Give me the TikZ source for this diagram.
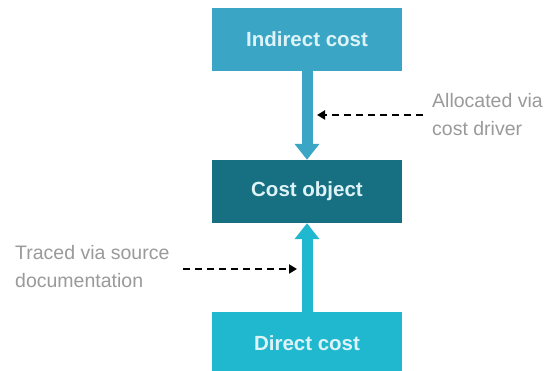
\documentclass[tikz,border=0pt]{standalone}
\usepackage{fontspec}
\setmainfont{Liberation Sans}
\usetikzlibrary{arrows.meta}
\definecolor{indirectblue}{HTML}{3AA5C5}
\definecolor{objectteal}{HTML}{176F82}
\definecolor{directcyan}{HTML}{1FB8CE}
\definecolor{boxtext}{HTML}{DDF3F7}
\definecolor{notegrey}{HTML}{9A9A9A}
\tikzset{
  costbox/.style={rectangle, minimum width=190pt, minimum height=63pt, inner sep=0pt,
    text=boxtext, font=\fontsize{20.5}{24}\selectfont\bfseries},
  flow/.style={line width=11pt, -{Triangle[width=24pt,length=16pt]}},
  note/.style={align=left, inner sep=0pt, text=notegrey,
    font=\fontsize{19.5}{28}\selectfont},
  notearrow/.style={black, line width=2pt, dash pattern=on 7pt off 5pt,
    -{Triangle[width=9pt,length=8pt]}}
}
\begin{document}
\begin{tikzpicture}[x=1pt,y=1pt]
  \useasboundingbox (0,0) rectangle (544,371);
  \clip (0,0) rectangle (544,371);
  \fill[white] (0,0) rectangle (544,371);

  % cost boxes
  \node[costbox, fill=indirectblue] (ind) at (307,331.5) {Indirect cost};
  \node[costbox, fill=objectteal]   (obj) at (307,179.5) {Cost object};
  \node[costbox, fill=directcyan]   (dir) at (307,27.5)  {Direct cost};

  % flows into the cost object
  \draw[flow, indirectblue] (ind.south) -- (obj.north);
  \draw[flow, directcyan]   (dir.north) -- (obj.south);

  % annotations
  \node[note, anchor=west] (alloc) at (432,256) {Allocated via\\cost driver};
  \node[note, anchor=west] (trace) at (15,104) {Traced via source\\documentation};

  \coordinate (allocstart) at (423,256);
  \coordinate (allocend)   at (317,256);
  \coordinate (tracestart) at (183,102);
  \coordinate (traceend)   at (297,102);
  \draw[notearrow] (allocstart) -- (allocend);
  \draw[notearrow] (tracestart) -- (traceend);
\end{tikzpicture}
\end{document}
